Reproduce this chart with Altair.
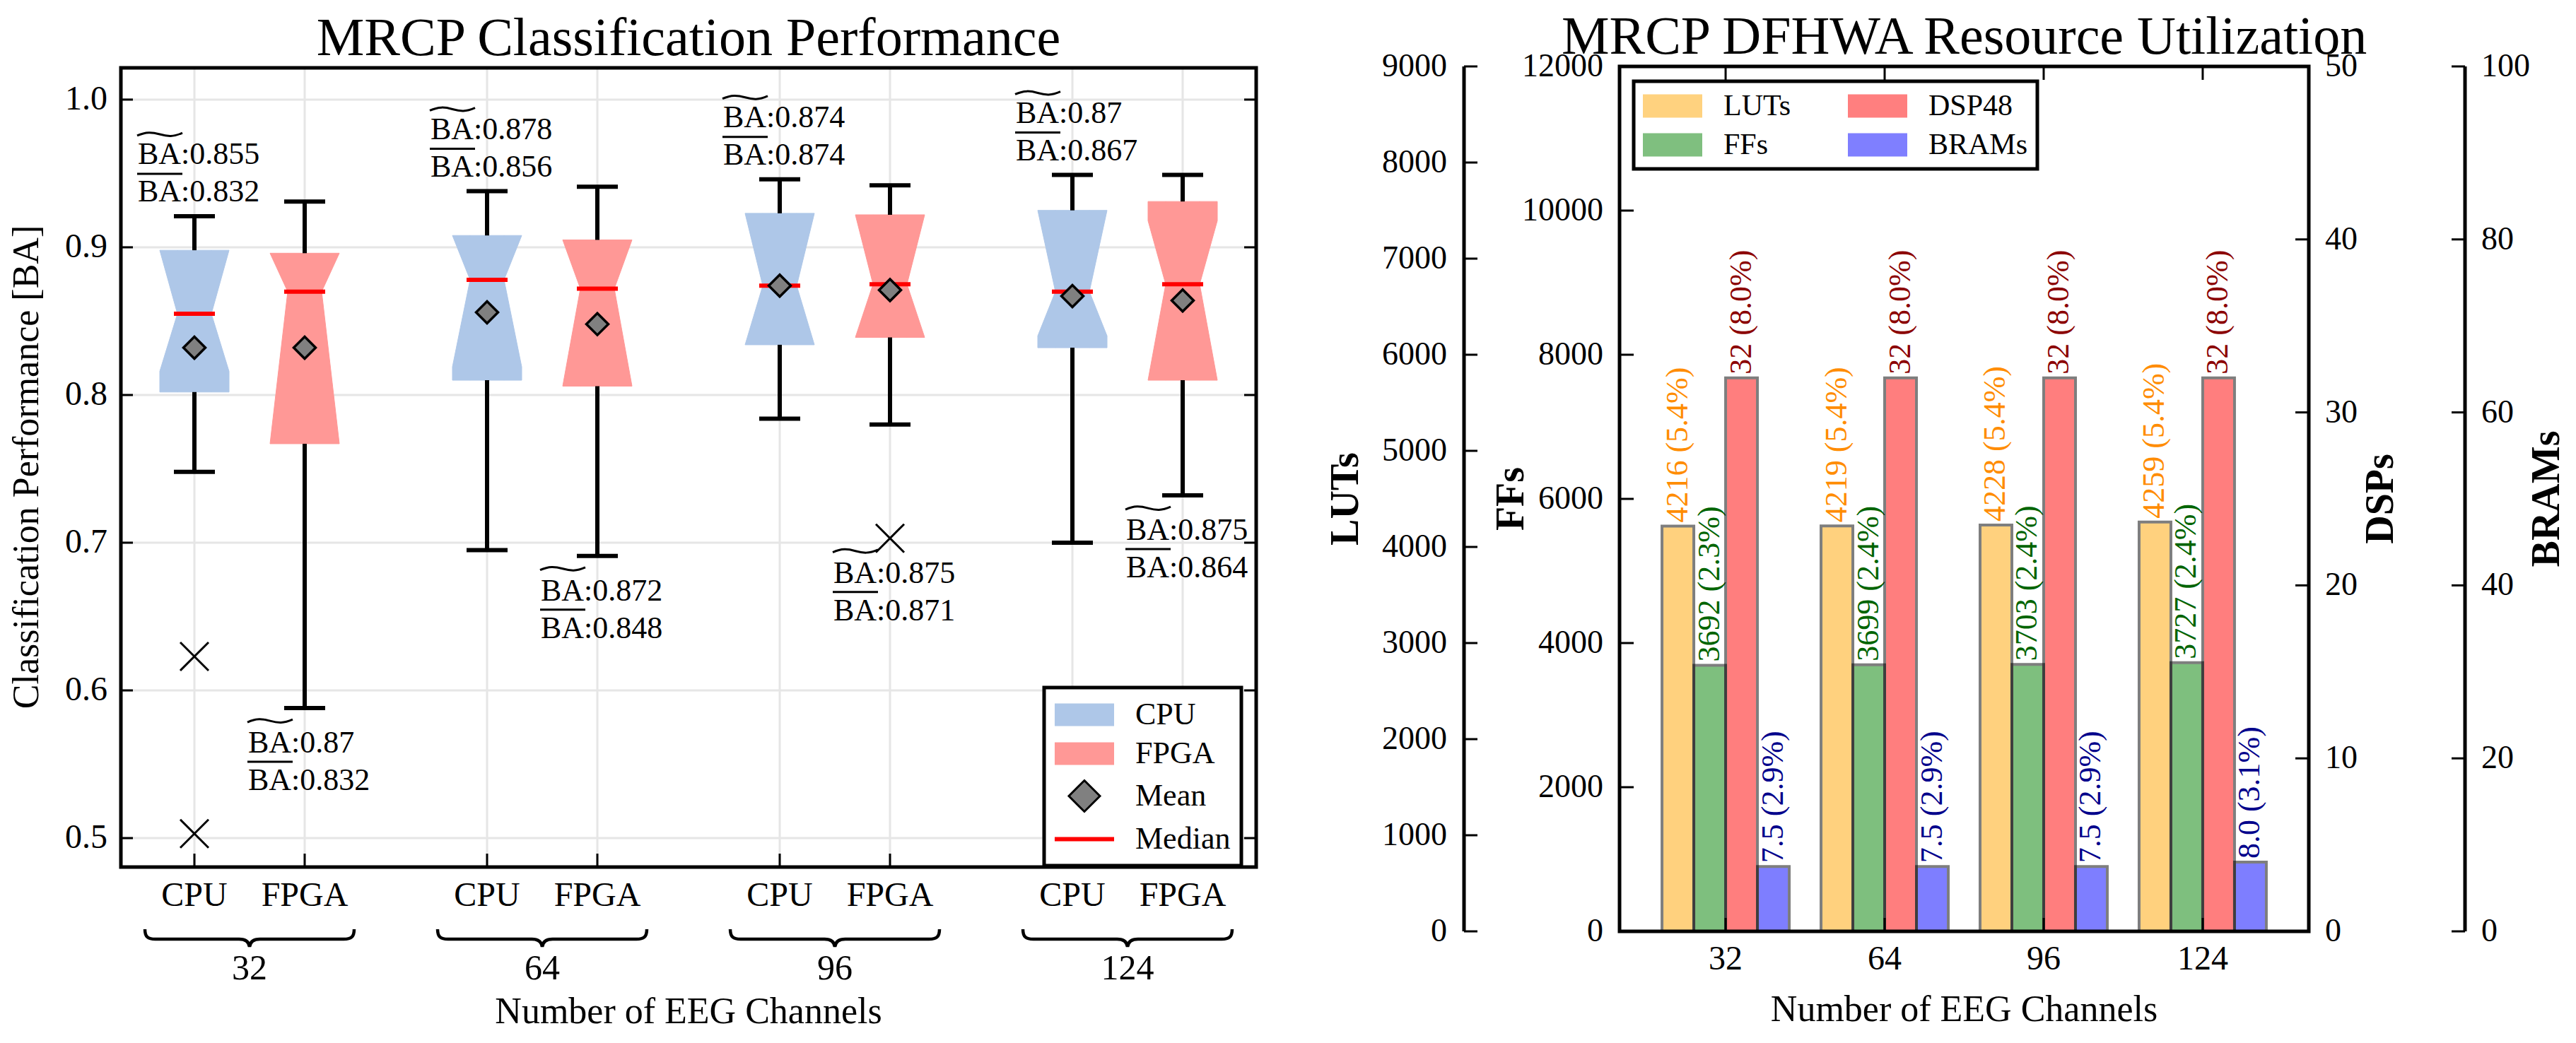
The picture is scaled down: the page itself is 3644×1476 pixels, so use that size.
import altair as alt
import pandas as pd

FONT = "Liberation Serif"

# ------------------------------------------------------------------ data
CHANNELS = [32, 64, 96, 124]
DEVICES = ["CPU", "FPGA"]

CPU_WHISKER_HI = [0.921, 0.938, 0.946, 0.949]
CPU_Q3 = [0.898, 0.908, 0.923, 0.925]
CPU_NOTCH_HI = [0.898, 0.908, 0.923, 0.925]
CPU_MEDIAN = [0.855, 0.878, 0.874, 0.87]
CPU_NOTCH_LO = [0.816, 0.819, 0.834, 0.840]
CPU_Q1 = [0.802, 0.810, 0.834, 0.832]
CPU_WHISKER_LO = [0.748, 0.695, 0.784, 0.700]
CPU_MEAN = [0.832, 0.856, 0.874, 0.867]

FPGA_WHISKER_HI = [0.931, 0.941, 0.942, 0.949]
FPGA_Q3 = [0.896, 0.905, 0.922, 0.931]
FPGA_NOTCH_HI = [0.896, 0.905, 0.922, 0.918]
FPGA_MEDIAN = [0.87, 0.872, 0.875, 0.875]
FPGA_NOTCH_LO = [0.767, 0.806, 0.839, 0.810]
FPGA_Q1 = [0.767, 0.806, 0.839, 0.810]
FPGA_WHISKER_LO = [0.588, 0.691, 0.780, 0.732]
FPGA_MEAN = [0.832, 0.848, 0.871, 0.864]

OUTLIER_DEVICES = ["CPU", "CPU", "FPGA"]
OUTLIER_CHANNELS = [32, 32, 96]
OUTLIER_VALUES = [0.623, 0.503, 0.703]

Y_TICKS = [0.5, 0.6, 0.7, 0.8, 0.9, 1.0]
LEGEND_ENTRIES = ["CPU", "FPGA", "Mean", "Median"]

RESOURCES = ["LUTs", "FFs", "DSP48", "BRAMs"]
LUT_VALUES = [4216, 4219, 4228, 4259]
LUT_PCT = [5.4, 5.4, 5.4, 5.4]
FF_VALUES = [3692, 3699, 3703, 3727]
FF_PCT = [2.3, 2.4, 2.4, 2.4]
DSP_VALUES = [32, 32, 32, 32]
DSP_PCT = [8.0, 8.0, 8.0, 8.0]
BRAM_VALUES = [7.5, 7.5, 7.5, 8.0]
BRAM_PCT = [2.9, 2.9, 2.9, 3.1]

LUT_TICKS = [0, 1000, 2000, 3000, 4000, 5000, 6000, 7000, 8000, 9000]
FF_TICKS = [0, 2000, 4000, 6000, 8000, 10000, 12000]
DSP_TICKS = [0, 10, 20, 30, 40, 50]
BRAM_TICKS = [0, 20, 40, 60, 80, 100]

# ------------------------------------------------------------------ layout / style
W, H = 3628, 1452
L_X0, L_X1, L_Y0, L_Y1 = 163, 1769, 1219, 88
R_X0, R_X1, R_Y0, R_Y1 = 2283, 3258, 1310, 86

DEV_GAP = 156 / 414
BOX_HALF = 49 / 414
WAIST_HALF = 24 / 414
CAP_HALF = 29 / 414
X_LO, X_HI = -182 / 414, 3 + 182 / 414
Y_LO, Y_HI = 0.4804, 1.0215
PX_X = 1 / 414
PX_Y = 1 / 2090

DEV_COLORS = {"CPU": "#aec7e8", "FPGA": "#ff9896"}
BOX_COLORS = ["#aec7e8", "#ff9896", "#808080", "#ff0000"]
LEG_RECT = "M-1.07,-0.727H2.75V0.727H-1.07Z"
LEG_LINE = "M-1.07,-0.136H2.75V0.136H-1.07Z"
LEG_DIAMOND = "M0.84,-1L1.84,0L0.84,1L-0.16,0Z"
R_LEG_RECT = "M-1,-0.75H2.818V0.75H-1Z"
DIAMOND_PATH = "M0,-1L1,0L0,1L-1,0Z"
X_PATH = "M-1,-1L1,1M-1,1L1,-1"
TILDE_PATH = "M-1,0.06C-0.6,-0.12,-0.35,-0.1,0,0C0.35,0.1,0.6,0.12,1,-0.06"
OVERLINE_PATH = "M-1,0H1"
BRACE_PATH = ("M-1,-0.095C-1,-0.02,-0.97,0,-0.9,0L-0.1,0C-0.03,0,-0.005,0.03,0,0.075"
              "C0.005,0.03,0.03,0,0.1,0L0.9,0C0.97,0,1,-0.02,1,-0.095")


def label_text(x, y, s, size, **kw):
    return alt.Chart(pd.DataFrame({"s": [s]})).mark_text(
        fontSize=size, font=FONT, color="black", **kw
    ).encode(x=alt.value(x), y=alt.value(y), text="s:N")


# ------------------------------------------------------------------ left panel tables
stats = {
    "CPU": dict(whi=CPU_WHISKER_HI, q3=CPU_Q3, nhi=CPU_NOTCH_HI, med=CPU_MEDIAN,
                nlo=CPU_NOTCH_LO, q1=CPU_Q1, wlo=CPU_WHISKER_LO, mean=CPU_MEAN),
    "FPGA": dict(whi=FPGA_WHISKER_HI, q3=FPGA_Q3, nhi=FPGA_NOTCH_HI, med=FPGA_MEDIAN,
                 nlo=FPGA_NOTCH_LO, q1=FPGA_Q1, wlo=FPGA_WHISKER_LO, mean=FPGA_MEAN),
}

piece_rows, summ_rows, out_rows, grp_rows = [], [], [], []
for gi, ch in enumerate(CHANNELS):
    grp_rows.append(dict(gc=float(gi), label=str(ch)))
    for di, dev in enumerate(DEVICES):
        s = {k: v[gi] for k, v in stats[dev].items()}
        p = gi + (di - 0.5) * DEV_GAP
        outs = [v for d, c, v in zip(OUTLIER_DEVICES, OUTLIER_CHANNELS, OUTLIER_VALUES)
                if d == dev and c == ch]
        for v in outs:
            out_rows.append(dict(pos=p, val=v))
        low = min([s["wlo"]] + outs)
        # notched outline: a central column plus four tapered side pieces
        pieces = {
            "LL": [(p - BOX_HALF, s["nlo"], s["q1"]), (p - WAIST_HALF, s["med"], s["q1"])],
            "LU": [(p - BOX_HALF, s["q3"], s["nhi"]), (p - WAIST_HALF, s["q3"], s["med"])],
            "RL": [(p + WAIST_HALF, s["med"], s["q1"]), (p + BOX_HALF, s["nlo"], s["q1"])],
            "RU": [(p + WAIST_HALF, s["q3"], s["med"]), (p + BOX_HALF, s["q3"], s["nhi"])],
        }
        for name, pts in pieces.items():
            for (x, top, bot) in pts:
                piece_rows.append(dict(piece=f"{dev}-{ch}-{name}", dev=dev, x=x, top=top, bot=bot))
        row = dict(dev=dev, ch=ch, pos=p, cl=p - CAP_HALF, cr=p + CAP_HALF,
                   wl=p - WAIST_HALF, wr=p + WAIST_HALF, low=low,
                   y0=Y_LO, y1=Y_HI, yt=Y_LO + 19 * PX_Y,
                   text=f"BA:{s['med']}\nBA:{s['mean']}")
        row.update(s)
        summ_rows.append(row)

piece_df = pd.DataFrame(piece_rows)
summ = pd.DataFrame(summ_rows)
summ_cpu = summ[summ.dev == "CPU"]
summ_fpga = summ[summ.dev == "FPGA"]
out_df = pd.DataFrame(out_rows)
grp_df = pd.DataFrame(grp_rows)
ytick_df = pd.DataFrame({
    "t": Y_TICKS,
    "lab": [f"{t:.1f}" for t in Y_TICKS],
    "x0": X_LO, "x1": X_HI,
    "xa": X_LO + 17 * PX_X, "xb": X_HI - 17 * PX_X,
})
frame_df = pd.DataFrame({"x0": [X_LO], "x1": [X_HI], "y0": [Y_LO], "y1": [Y_HI]})

XS = alt.Scale(domain=[X_LO, X_HI], range=[L_X0, L_X1], nice=False, zero=False)
YS = alt.Scale(domain=[Y_LO, Y_HI], range=[L_Y0, L_Y1], nice=False, zero=False)
FILL_SCALE = alt.Scale(domain=LEGEND_ENTRIES, range=BOX_COLORS)
SHAPE_SCALE = alt.Scale(domain=LEGEND_ENTRIES, range=[LEG_RECT, LEG_RECT, LEG_DIAMOND, LEG_LINE])
STROKE_SCALE = alt.Scale(domain=LEGEND_ENTRIES,
                         range=["transparent", "transparent", "black", "transparent"])


def xq(f):
    return alt.X(f, type="quantitative", scale=XS, axis=None)


def yq(f):
    return alt.Y(f, type="quantitative", scale=YS, axis=None)


GRID = "#e6e6e6"
ygrid = alt.Chart(ytick_df).mark_rule(color=GRID, strokeWidth=3).encode(
    y=yq("t"), x=xq("x0"), x2="x1:Q")
xgrid = alt.Chart(summ).mark_rule(color=GRID, strokeWidth=3).encode(
    x=xq("pos"), y=yq("y0"), y2="y1:Q")

box_layers = []
for dev in DEVICES:
    col = DEV_COLORS[dev]
    box_layers.append(
        alt.Chart(summ[summ.dev == dev]).mark_rect(fill=col, stroke=col, strokeWidth=1).encode(
            x=xq("wl"), x2="wr:Q", y=yq("q1"), y2="q3:Q")
    )
    box_layers.append(
        alt.Chart(piece_df[piece_df.dev == dev]).mark_area(
            fill=col, stroke=col, strokeWidth=1, opacity=1
        ).encode(
            x=xq("x"),
            y=alt.Y("top:Q", scale=YS, axis=None, stack=None),
            y2="bot:Q",
            detail="piece:N",
        )
    )

whisk_hi = alt.Chart(summ).mark_rule(color="black", strokeWidth=6).encode(
    x=xq("pos"), y=yq("q3"), y2="whi:Q")
whisk_lo = alt.Chart(summ).mark_rule(color="black", strokeWidth=6).encode(
    x=xq("pos"), y=yq("wlo"), y2="q1:Q")
cap_hi = alt.Chart(summ).mark_rule(color="black", strokeWidth=6).encode(
    x=xq("cl"), x2="cr:Q", y=yq("whi"))
cap_lo = alt.Chart(summ).mark_rule(color="black", strokeWidth=6).encode(
    x=xq("cl"), x2="cr:Q", y=yq("wlo"))
median = alt.Chart(summ).mark_rule(color="red", strokeWidth=6).encode(
    x=xq("cl"), x2="cr:Q", y=yq("med"))
means = alt.Chart(summ).mark_point(shape=DIAMOND_PATH, size=961, filled=True, fill="#808080",
                                   stroke="black", strokeWidth=3.5, opacity=1).encode(
    x=xq("pos"), y=yq("mean"))
outliers = alt.Chart(out_df).mark_point(shape=X_PATH, size=1600, filled=False, strokeWidth=3,
                                        color="black", opacity=1).encode(x=xq("pos"), y=yq("val"))

ann_common = dict(align="left", baseline="alphabetic", dx=-80, lineHeight=53, fontSize=44,
                  font=FONT, lineBreak="\n", color="black")
ann_cpu = alt.Chart(summ_cpu).mark_text(dy=-74, **ann_common).encode(
    x=xq("pos"), y=yq("whi"), text="text:N")
ann_fpga = alt.Chart(summ_fpga).mark_text(dy=63, **ann_common).encode(
    x=xq("pos"), y=yq("low"), text="text:N")
sym_common = dict(filled=False, strokeWidth=3, color="black", opacity=1, size=4096, xOffset=-49)
tilde_cpu = alt.Chart(summ_cpu).mark_point(shape=TILDE_PATH, yOffset=-116, **sym_common).encode(
    x=xq("pos"), y=yq("whi"))
bar_cpu = alt.Chart(summ_cpu).mark_point(shape=OVERLINE_PATH, yOffset=-60, **sym_common).encode(
    x=xq("pos"), y=yq("whi"))
tilde_fpga = alt.Chart(summ_fpga).mark_point(shape=TILDE_PATH, yOffset=18, **sym_common).encode(
    x=xq("pos"), y=yq("low"))
bar_fpga = alt.Chart(summ_fpga).mark_point(shape=OVERLINE_PATH, yOffset=76, **sym_common).encode(
    x=xq("pos"), y=yq("low"))

yt_left = alt.Chart(ytick_df).mark_rule(color="black", strokeWidth=3).encode(
    y=yq("t"), x=xq("x0"), x2="xa:Q")
yt_right = alt.Chart(ytick_df).mark_rule(color="black", strokeWidth=3).encode(
    y=yq("t"), x=xq("xb"), x2="x1:Q")
xt_bottom = alt.Chart(summ).mark_rule(color="black", strokeWidth=3).encode(
    x=xq("pos"), y=yq("y0"), y2="yt:Q")
ytick_labels = alt.Chart(ytick_df).mark_text(align="right", baseline="middle", dx=-19,
                                             fontSize=48, font=FONT, color="black").encode(
    x=xq("x0"), y=yq("t"), text="lab:N")
frame_l = alt.Chart(frame_df).mark_rect(fill="transparent", stroke="black", strokeWidth=5).encode(
    x=xq("x0"), x2="x1:Q", y=yq("y0"), y2="y1:Q")

dev_labels = alt.Chart(summ).mark_text(fontSize=48, font=FONT, baseline="middle", color="black").encode(
    x=xq("pos"), y=alt.value(1260), text="dev:N")
braces = alt.Chart(grp_df).mark_point(shape=BRACE_PATH, size=296 ** 2, filled=False, strokeWidth=4.5,
                                      color="black", opacity=1).encode(x=xq("gc"), y=alt.value(1321))
grp_labels = alt.Chart(grp_df).mark_text(fontSize=50, font=FONT, baseline="middle", color="black").encode(
    x=xq("gc"), y=alt.value(1363), text="label:N")

LLEG = dict(orient="none", legendX=1469, legendY=965, title=None, symbolSize=1936,
            symbolStrokeWidth=3, symbolOpacity=1, labelFontSize=44, labelOffset=67,
            rowPadding=9, padding=15, strokeColor="black", fillColor="white", labelColor="black")
leg_df = pd.DataFrame({"entry": LEGEND_ENTRIES})
left_legend = alt.Chart(leg_df).mark_point(opacity=0, filled=True, strokeWidth=3).encode(
    x=alt.value(700), y=alt.value(700),
    fill=alt.Fill("entry:N", scale=FILL_SCALE, legend=alt.Legend(**LLEG)),
    shape=alt.Shape("entry:N", scale=SHAPE_SCALE, legend=alt.Legend(**LLEG)),
    stroke=alt.Stroke("entry:N", scale=STROKE_SCALE, legend=alt.Legend(**LLEG)),
)

left_mid = (L_X0 + L_X1) / 2
left = alt.layer(
    ygrid, xgrid, *box_layers, whisk_hi, whisk_lo, cap_hi, cap_lo, median, means, outliers,
    ann_cpu, ann_fpga, tilde_cpu, bar_cpu, tilde_fpga, bar_fpga,
    yt_left, yt_right, xt_bottom, ytick_labels, frame_l,
    dev_labels, braces, grp_labels, left_legend,
    label_text(30, 653, "Classification Performance [BA]", 52, angle=270, baseline="middle"),
    label_text(left_mid, 1440, "Number of EEG Channels", 52, baseline="alphabetic"),
    label_text(left_mid, 70, "MRCP Classification Performance", 76, baseline="alphabetic"),
)

# ------------------------------------------------------------------ right panel
CH_LABELS = [str(c) for c in CHANNELS]
XB = alt.Scale(domain=CH_LABELS, range=[R_X0, R_X1], paddingInner=0.2, paddingOuter=0.267)
XO = alt.Scale(domain=RESOURCES, paddingInner=0, paddingOuter=0)
BAR_COLORS = {"LUTs": "#ffa500", "FFs": "#008000", "DSP48": "#ff0000", "BRAMs": "#0000ff"}
RES_COLOR = alt.Scale(domain=RESOURCES, range=[BAR_COLORS[r] for r in RESOURCES])

res_specs = [
    dict(name="LUTs", vals=LUT_VALUES, pct=LUT_PCT, fmt="{:d} ({:.1f}%)", domain=[0, 9000],
         ticks=LUT_TICKS, title="LUTs", tx=1896, color="#ff8c00",
         tick_x=(2063, 2082), lab_x=2039, lab_align="right", axis_x=2063),
    dict(name="FFs", vals=FF_VALUES, pct=FF_PCT, fmt="{:d} ({:.1f}%)", domain=[0, 12000],
         ticks=FF_TICKS, title="FFs", tx=2130, color="#006400",
         tick_x=(R_X0, R_X0 + 20), lab_x=2260, lab_align="right", axis_x=None),
    dict(name="DSP48", vals=DSP_VALUES, pct=DSP_PCT, fmt="{:d} ({:.1f}%)", domain=[0, 50],
         ticks=DSP_TICKS, title="DSPs", tx=3360, color="#8b0000",
         tick_x=(R_X1 - 19, R_X1), lab_x=3281, lab_align="left", axis_x=None),
    dict(name="BRAMs", vals=BRAM_VALUES, pct=BRAM_PCT, fmt="{:.1f} ({:.1f}%)", domain=[0, 100],
         ticks=BRAM_TICKS, title="BRAMs", tx=3595, color="#00008b",
         tick_x=(3460, 3479), lab_x=3502, lab_align="left", axis_x=3479),
]

inner_layers = []
for i, sp in enumerate(res_specs):
    df = pd.DataFrame({
        "ch": CH_LABELS,
        "res": sp["name"],
        "val": sp["vals"],
        "label": [sp["fmt"].format(v, p) for v, p in zip(sp["vals"], sp["pct"])],
    })
    ysc = alt.Scale(domain=sp["domain"], range=[R_Y0, R_Y1], nice=False, zero=True)
    bars = alt.Chart(df).mark_bar(opacity=0.5, fill=BAR_COLORS[sp["name"]], stroke="black",
                                  strokeWidth=4).encode(
        x=alt.X("ch:N", scale=XB, axis=None),
        xOffset=alt.XOffset("res:N", scale=XO),
        y=alt.Y("val:Q", scale=ysc, axis=None),
    )
    labels = alt.Chart(df).mark_text(angle=270, align="left", baseline="middle", dx=5,
                                     fontSize=44, font=FONT, color=sp["color"]).encode(
        x=alt.X("ch:N", scale=XB, axis=None),
        xOffset=alt.XOffset("res:N", scale=XO),
        y=alt.Y("val:Q", scale=ysc, axis=None),
        text="label:N",
    )
    tdf = pd.DataFrame({"t": sp["ticks"], "lab": [str(t) for t in sp["ticks"]]})
    tk = alt.Chart(tdf).mark_rule(color="black", strokeWidth=3).encode(
        y=alt.Y("t:Q", scale=ysc, axis=None),
        x=alt.value(sp["tick_x"][0]), x2=alt.value(sp["tick_x"][1]),
    )
    tl = alt.Chart(tdf).mark_text(align=sp["lab_align"], baseline="middle", fontSize=46,
                                  font=FONT, color="black").encode(
        y=alt.Y("t:Q", scale=ysc, axis=None), x=alt.value(sp["lab_x"]), text="lab:N")
    parts = [bars, labels, tk, tl]
    if sp["axis_x"] is not None:
        adf = pd.DataFrame({"y0": [sp["domain"][0]], "y1": [sp["domain"][1]]})
        parts.append(alt.Chart(adf).mark_rule(color="black", strokeWidth=5).encode(
            y=alt.Y("y0:Q", scale=ysc, axis=None), y2="y1:Q", x=alt.value(sp["axis_x"])))
    if i == len(res_specs) - 1:
        fdf = pd.DataFrame({"y0": [sp["domain"][0]], "y1": [sp["domain"][1]]})
        parts.append(alt.Chart(fdf).mark_rect(fill="transparent", stroke="black", strokeWidth=5).encode(
            y=alt.Y("y0:Q", scale=ysc, axis=None), y2="y1:Q",
            x=alt.value(R_X0), x2=alt.value(R_X1)))
    parts.append(label_text(sp["tx"], (R_Y0 + R_Y1) / 2, sp["title"], 56, angle=270,
                            baseline="middle", fontWeight="bold"))
    inner_layers.append(alt.layer(*parts))

cat_df = pd.DataFrame({"ch": CH_LABELS})
cat_top = alt.Chart(cat_df).mark_rule(color="black", strokeWidth=3).encode(
    x=alt.X("ch:N", scale=XB, axis=None), y=alt.value(R_Y1), y2=alt.value(R_Y1 + 19))
cat_bottom = alt.Chart(cat_df).mark_rule(color="black", strokeWidth=3).encode(
    x=alt.X("ch:N", scale=XB, axis=None), y=alt.value(R_Y0 - 19), y2=alt.value(R_Y0))
cat_labels = alt.Chart(cat_df).mark_text(fontSize=48, font=FONT, baseline="middle",
                                         color="black").encode(
    x=alt.X("ch:N", scale=XB, axis=None), y=alt.value(1350), text="ch:N")

RLEG = alt.Legend(orient="none", legendX=2303, legendY=107, columns=2, title=None,
                  gridAlign="each", symbolType=R_LEG_RECT, symbolSize=1936, symbolOpacity=0.5,
                  symbolStrokeWidth=0, labelFontSize=42, labelOffset=70,
                  columnPadding=80, rowPadding=12, padding=13, strokeColor="black",
                  fillColor="white", labelColor="black")
rleg_df = pd.DataFrame({"res": RESOURCES})
right_legend = alt.Chart(rleg_df).mark_point(opacity=0, filled=True, strokeWidth=0).encode(
    x=alt.value(2500), y=alt.value(700),
    color=alt.Color("res:N", scale=RES_COLOR, legend=RLEG),
)

right_mid = (R_X0 + R_X1) / 2
right = alt.layer(
    *inner_layers, cat_top, cat_bottom, cat_labels, right_legend,
    label_text(right_mid, 1437, "Number of EEG Channels", 52, baseline="alphabetic"),
    label_text(right_mid, 68, "MRCP DFHWA Resource Utilization", 76, baseline="alphabetic"),
).resolve_scale(y="independent")

base = alt.layer(left, right).resolve_scale(
    x="independent", y="independent",
).properties(
    width=W, height=H, autosize=alt.AutoSizeParams(type="none"), padding=0,
).configure(font=FONT).configure_view(strokeWidth=0)

try:
    chart = base.configure_legend(strokeWidth=5)
    chart.to_dict()
except Exception:
    chart = base

chart.save("out.html", embed_options={"renderer": "svg", "actions": False})
